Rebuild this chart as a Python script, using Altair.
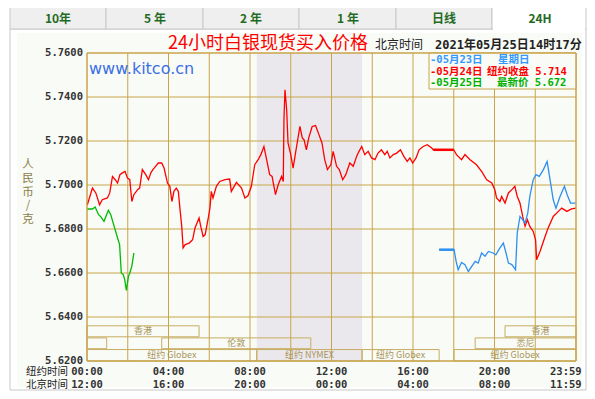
import altair as alt
import pandas as pd

# ---------------- data ----------------
red_min = [1, 16, 26, 37, 45, 60, 67, 75, 83, 90,
           97, 104, 112, 119, 126, 132, 138, 149, 155, 163,
           173, 181, 188, 194, 202, 210, 220, 227, 237, 244,
           250, 256, 263, 269, 274, 279, 283, 289, 301, 311,
           318, 330, 335, 342, 348, 358, 362, 366, 371, 381,
           391, 406, 420, 425, 440, 455, 465, 474, 484, 494,
           504, 512, 521, 529, 538, 545, 555, 563, 573, 578,
           580, 583, 588, 592, 600, 607, 614, 627, 634, 639,
           646, 653, 663, 673, 683, 692, 700, 708, 718, 725,
           735, 743, 753, 762, 774, 784, 794, 801, 809, 818,
           828, 838, 848, 857, 867, 877, 884, 892, 902, 912,
           923, 933, 943, 951, 959, 969, 978, 990, 1002, 1015,
           1020, 1080, 1088, 1103, 1113, 1128, 1147, 1162, 1177, 1192,
           1201, 1206, 1216, 1221, 1231, 1241, 1251, 1260, 1267, 1275,
           1283, 1290, 1297, 1304, 1314, 1321, 1324, 1334, 1349, 1358,
           1373, 1388, 1398, 1413, 1427, 1439]
red_val = [5.6910, 5.6986, 5.6964, 5.6910, 5.6933, 5.6941, 5.6964, 5.7039, 5.7024, 5.7009,
           5.7047, 5.7055, 5.7062, 5.7032, 5.7024, 5.6925, 5.6956, 5.6979, 5.6986, 5.7070,
           5.7047, 5.7024, 5.7055, 5.7070, 5.7085, 5.7100, 5.7100, 5.7077, 5.7009, 5.6994,
           5.6925, 5.6971, 5.6986, 5.6971, 5.6888, 5.6812, 5.6714, 5.6729, 5.6736, 5.6751,
           5.6805, 5.6850, 5.6812, 5.6766, 5.6774, 5.6857, 5.6895, 5.6971, 5.6941, 5.6994,
           5.7016, 5.7024, 5.7027, 5.6971, 5.7012, 5.6986, 5.6941, 5.6951, 5.6994, 5.7092,
           5.7115, 5.7138, 5.7175, 5.7115, 5.7047, 5.7039, 5.6956, 5.7001, 5.7039, 5.7016,
           5.7297, 5.7433, 5.7342, 5.7191, 5.7138, 5.7077, 5.7145, 5.7266, 5.7214, 5.7206,
           5.7160, 5.7214, 5.7266, 5.7270, 5.7229, 5.7191, 5.7115, 5.7070, 5.7092, 5.7153,
           5.7085, 5.7070, 5.7024, 5.7047, 5.7100, 5.7085, 5.7130, 5.7153, 5.7175, 5.7138,
           5.7153, 5.7123, 5.7115, 5.7145, 5.7160, 5.7138, 5.7153, 5.7123, 5.7138, 5.7145,
           5.7160, 5.7130, 5.7107, 5.7123, 5.7100, 5.7123, 5.7160, 5.7175, 5.7183, 5.7168,
           5.7160, 5.7160, 5.7138, 5.7115, 5.7138, 5.7115, 5.7092, 5.7062, 5.7024, 5.7009,
           5.6979, 5.6941, 5.6925, 5.6948, 5.6918, 5.6964, 5.6979, 5.6994, 5.6948, 5.6918,
           5.6857, 5.6812, 5.6842, 5.6812, 5.6789, 5.6751, 5.6660, 5.6698, 5.6766, 5.6805,
           5.6857, 5.6880, 5.6895, 5.6880, 5.6891, 5.6895]

blue_min = [1037, 1081, 1087, 1093, 1103, 1113, 1123, 1133, 1143, 1152,
            1162, 1172, 1182, 1196, 1204, 1216, 1226, 1234, 1241, 1251,
            1262, 1267, 1275, 1283, 1290, 1298, 1304, 1314, 1322, 1332,
            1344, 1355, 1362, 1373, 1381, 1393, 1406, 1414, 1424, 1439]
blue_val = [5.6706, 5.6706, 5.6653, 5.6615, 5.6648, 5.6638, 5.6607, 5.6630, 5.6653, 5.6645,
            5.6691, 5.6676, 5.6698, 5.6691, 5.6683, 5.6714, 5.6736, 5.6691, 5.6645, 5.6638,
            5.6615, 5.6782, 5.6857, 5.6842, 5.6827, 5.6873, 5.6948, 5.7024, 5.7047, 5.7039,
            5.7070, 5.7107, 5.7039, 5.6933, 5.6895, 5.6948, 5.6994, 5.6956, 5.6918, 5.6918]

green_min = [1, 16, 24, 34, 40, 50, 63, 70, 80, 90, 96, 101, 107, 111, 116, 122, 126, 132, 138]
green_val = [5.6891, 5.6891, 5.6900, 5.6865, 5.6857, 5.6835, 5.6885, 5.6865, 5.6812, 5.6759,
             5.6729, 5.6600, 5.6592, 5.6570, 5.6521, 5.6585, 5.6600, 5.6630, 5.6691]

y_ticks = [5.62, 5.64, 5.66, 5.68, 5.70, 5.72, 5.74, 5.76]
x_grid = list(range(0, 1441, 120))
time_pos = [0, 240, 480, 720, 960, 1200, 1439]
ny_labels = ["00:00", "04:00", "08:00", "12:00", "16:00", "20:00", "23:59"]
bj_labels = ["12:00", "16:00", "20:00", "00:00", "04:00", "08:00", "11:59"]

sess_row = [1, 1, 2, 2, 2, 3, 3, 3, 3]
sess_start = [0, 1231, 0, 220, 1143, 0, 500, 810, 1081]
sess_end = [330, 1440, 58, 659, 1440, 500, 810, 1037, 1440]
sess_label = ["香港", "香港", "", "伦敦", "悉尼", "纽约 Globex", "纽约 NYMEX", "纽约 Globex", "纽约 Globex"]
nymex_span = [500, 810]

tab_labels = ["10年", "5 年", "2 年", "1 年", "日线", "24H"]
y_title_chars = ["人", "民", "币", "/", "克"]

# ---------------- styling ----------------
W, H = 489, 308
GOLD = "#c9a44a"
CJK = "Noto Sans CJK SC"
MONO = "DejaVu Sans Mono, Noto Sans CJK SC"
PANEL = "#f9fbf6"

xs = alt.Scale(domain=[0, 1440], nice=False, zero=False)
ys = alt.Scale(domain=[5.62, 5.76], nice=False, zero=False)
one = pd.DataFrame({"a": [0]})


def rect(x0, x1, y0, y1, **kw):
    return alt.Chart(one).mark_rect(**kw).encode(
        x=alt.value(x0), x2=alt.value(x1), y=alt.value(y0), y2=alt.value(y1))


def txt(x, y, s, **kw):
    return alt.Chart(one).mark_text(**kw).encode(
        x=alt.value(x), y=alt.value(y), text=alt.value(s))


layers = []
# outer panel
layers.append(rect(-77, 499, -24, 337, fill="white", stroke="#c8c8c8", strokeWidth=1))
layers.append(rect(-70, 495, -20, 334, fill=PANEL))

# tabs
tab_edges = [-77, 19, 116, 212, 309, 405, 499]
tab_cent = [-29, 68, 164, 261, 357, 453]
for i, lab in enumerate(tab_labels):
    sel = i == len(tab_labels) - 1
    layers.append(rect(tab_edges[i], tab_edges[i + 1], -46, -24,
                       fill="white" if sel else "#efefef", stroke="#c8c8c8", strokeWidth=1))
    layers.append(txt(tab_cent[i], -34, lab, font=CJK, fontSize=12, fontWeight="bold",
                      color="#1f6b1f", align="center", baseline="middle"))
layers.append(rect(406, 498, -25, -23, fill="white"))

# NYMEX shading
shade = pd.DataFrame({"m": [nymex_span[0]], "m2": [nymex_span[1]]})
layers.append(alt.Chart(shade).mark_rect(color="#ebe8ed").encode(
    x=alt.X("m:Q", scale=xs, axis=None), x2="m2:Q",
    y=alt.value(0), y2=alt.value(H)))

# grid
layers.append(alt.Chart(pd.DataFrame({"m": x_grid})).mark_rule(color=GOLD, strokeWidth=1).encode(
    x=alt.X("m:Q", scale=xs, axis=None), y=alt.value(0), y2=alt.value(H)))
layers.append(alt.Chart(pd.DataFrame({"v": y_ticks})).mark_rule(color=GOLD, strokeWidth=1).encode(
    y=alt.Y("v:Q", scale=ys, axis=None), x=alt.value(0), x2=alt.value(W)))

# market session boxes
row_top = {1: 5.6360, 2: 5.6305, 3: 5.6252}
row_bot = {1: 5.6310, 2: 5.6256, 3: 5.6200}
sess = pd.DataFrame({"row": sess_row, "m": sess_start, "m2": sess_end, "label": sess_label})
sess["v"] = sess["row"].map(row_top)
sess["v2"] = sess["row"].map(row_bot)
sess["mid"] = (sess["m"] + sess["m2"]) / 2
sess["vm"] = (sess["v"] + sess["v2"]) / 2
layers.append(alt.Chart(sess).mark_rect(fillOpacity=0, stroke="#c8ad62", strokeWidth=1).encode(
    x=alt.X("m:Q", scale=xs, axis=None), x2="m2:Q",
    y=alt.Y("v:Q", scale=ys, axis=None), y2="v2:Q"))
layers.append(alt.Chart(sess).mark_text(font=CJK, fontSize=9, color="#a8955c", baseline="middle").encode(
    x=alt.X("mid:Q", scale=xs, axis=None), y=alt.Y("vm:Q", scale=ys, axis=None), text="label:N"))

# series
red = pd.DataFrame({"m": red_min, "v": red_val})
blue = pd.DataFrame({"m": blue_min, "v": blue_val})
green = pd.DataFrame({"m": green_min, "v": green_val})
for df, col in [(red, "#ff0000"), (blue, "#2f8ff0"), (green, "#00bb00")]:
    layers.append(alt.Chart(df).mark_line(color=col, strokeWidth=1.3).encode(
        x=alt.X("m:Q", scale=xs, axis=None), y=alt.Y("v:Q", scale=ys, axis=None)))
layers.append(alt.Chart(red).transform_filter("datum.m >= 1020 && datum.m <= 1080").mark_line(
    color="#ff0000", strokeWidth=2.5).encode(
    x=alt.X("m:Q", scale=xs, axis=None), y=alt.Y("v:Q", scale=ys, axis=None)))
layers.append(alt.Chart(blue).transform_filter("datum.m <= 1081").mark_line(
    color="#2f8ff0", strokeWidth=2.5).encode(
    x=alt.X("m:Q", scale=xs, axis=None), y=alt.Y("v:Q", scale=ys, axis=None)))

# y tick labels
layers.append(alt.Chart(pd.DataFrame({"v": y_ticks})).transform_calculate(
    lab="format(datum.v, '.4f')").mark_text(
    font=MONO, fontSize=10.5, fontWeight="bold", color="#333333", align="right", baseline="middle").encode(
    y=alt.Y("v:Q", scale=ys, axis=None), x=alt.value(-4), text="lab:N"))

# x time labels
tl = pd.DataFrame({"m": time_pos, "ny": ny_labels, "bj": bj_labels})
for field, yy in [("ny", 319), ("bj", 331.5)]:
    layers.append(alt.Chart(tl).transform_filter("datum.m < 1400").mark_text(
        font=MONO, fontSize=10.5, fontWeight="bold", color="#333333", baseline="middle").encode(
        x=alt.X("m:Q", scale=xs, axis=None), y=alt.value(yy), text=f"{field}:N"))
    layers.append(alt.Chart(tl).transform_filter("datum.m >= 1400").mark_text(
        font=MONO, fontSize=10.5, fontWeight="bold", color="#333333", baseline="middle",
        align="right", dx=6).encode(
        x=alt.X("m:Q", scale=xs, axis=None), y=alt.value(yy), text=f"{field}:N"))
layers.append(txt(-19, 319, "纽约时间", font=CJK, fontSize=10.5, color="#222222", align="right", baseline="middle"))
layers.append(txt(-19, 331.5, "北京时间", font=CJK, fontSize=10.5, color="#222222", align="right", baseline="middle"))

# y title, one character per line
for k, ch in enumerate(y_title_chars):
    layers.append(txt(-59, 112 + 13.8 * k, ch, font=CJK, fontSize=11.5, color="#8a7f4a",
                      align="center", baseline="middle"))

# watermark
layers.append(txt(2, 16, "www.kitco.cn", font="DejaVu Sans", fontSize=16, color="#3a6fe6",
                  align="left", baseline="middle"))

# title
layers.append(txt(181, -9, "24小时白银现货买入价格", font=CJK, fontSize=18, color="#ff0000",
                  align="center", baseline="middle"))
layers.append(txt(288, -8, "北京时间", font=CJK, fontSize=12, color="#222222", align="left", baseline="middle"))
layers.append(txt(348, -8, "2021年05月25日14时17分", font=MONO, fontSize=12, fontWeight="bold",
                  color="#222222", align="left", baseline="middle"))

# legend box
LF = dict(font=MONO, fontSize=10.5, fontWeight="bold", align="left", baseline="middle")
layers.append(rect(342, 489, 0, 36, fill=PANEL, stroke=GOLD, strokeWidth=1))
layers.append(txt(343, 6.5, "-05月23日", color="#3399ff", **LF))
layers.append(txt(411, 6.5, "星期日", color="#3399ff", **LF))
layers.append(txt(343, 18.5, "-05月24日", color="#ff0000", **LF))
layers.append(txt(400, 18.5, "纽约收盘 5.714", color="#ff0000", **LF))
layers.append(txt(343, 30, "-05月25日", color="#00b000", **LF))
layers.append(txt(410, 30, "最新价 5.672", color="#00b000", **LF))

# plot border
layers.append(rect(0, W, 0, H, fillOpacity=0, stroke=GOLD, strokeWidth=1))

chart = alt.layer(*layers).properties(
    width=W, height=H,
    padding={"left": 79, "top": 45, "right": 11, "bottom": 30},
    autosize=alt.AutoSizeParams(type="none"),
    background="white",
).configure_view(strokeWidth=0)

chart.save("out.html", embed_options={"renderer": "svg", "actions": False})
